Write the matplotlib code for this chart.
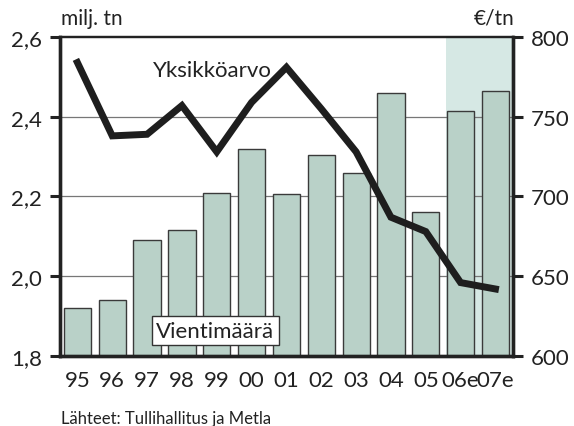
import numpy as np
import matplotlib
matplotlib.use("Agg")
import matplotlib.pyplot as plt

plt.rcParams['font.family'] = ['Lato', 'DejaVu Sans']

years = ["95", "96", "97", "98", "99", "00", "01", "02", "03", "04", "05", "06e", "07e"]
# export volume, million tonnes (left axis)
volume = [1.92, 1.94, 2.09, 2.115, 2.21, 2.32, 2.205, 2.305, 2.26, 2.46, 2.16, 2.415, 2.465]
# unit value, EUR/t (right axis)
unit_value = [784, 738, 739, 757, 728, 759, 781, 755, 728, 687, 678, 646, 642]

bar_color = "#b9d1c8"
shade_color = "#d6e8e4"
dark = "#222222"

fig = plt.figure(figsize=(5.74, 4.27), dpi=100)
ax = fig.add_axes([0.1045, 0.164, 0.789, 0.747])
x = np.arange(len(years))

# forecast shading
ax.axvspan(10.57, 12.5, color=shade_color, zorder=0, lw=0)
for y in [2.0, 2.2, 2.4]:
    ax.axhline(y, color="#777777", lw=0.9, zorder=1)

ax.bar(x, np.array(volume) - 1.8, bottom=1.8, width=0.78, color=bar_color,
       edgecolor="#3a3a3a", linewidth=1.0, zorder=2)
ax.set_xlim(-0.5, 12.5)
ax.set_ylim(1.8, 2.6)
ax.set_yticks([1.8, 2.0, 2.2, 2.4, 2.6])
ax.set_yticklabels(["1,8", "2,0", "2,2", "2,4", "2,6"])
ax.set_xticks(x)
ax.set_xticklabels(years)
ax.tick_params(axis="x", length=0, pad=10, labelsize=16, colors=dark)
ax.tick_params(axis="y", length=7, width=2.2, direction="out", labelsize=16,
               colors=dark, pad=6)

ax2 = ax.twinx()
ax2.plot(x, unit_value, color="#1e1e1e", lw=5, solid_joinstyle="miter", zorder=5)
ax2.set_ylim(600, 800)
ax2.set_yticks([600, 650, 700, 750, 800])
ax2.tick_params(axis="y", length=7, width=2.2, direction="out", labelsize=16,
                colors=dark, pad=6)

for a in (ax, ax2):
    a.spines["left"].set_linewidth(2.4)
    a.spines["right"].set_linewidth(2.4)
    a.spines["bottom"].set_linewidth(2.4)
    a.spines["top"].set_linewidth(1.6)
    for s in a.spines.values():
        s.set_color(dark)

ax2.text(2.17, 775.5, "Yksikköarvo", fontsize=16, color=dark, ha="left", va="baseline", zorder=6)
ax.text(3.96, 1.863, "Vientimäärä", fontsize=16, color=dark, ha="center", va="center", zorder=6,
        bbox=dict(boxstyle="square,pad=0.2", facecolor="white", edgecolor="#333333", lw=1.0))

fig.text(0.106, 0.941, "milj. tn", fontsize=15, color=dark, ha="left", va="baseline")
fig.text(0.897, 0.943, "€/tn", fontsize=15, color=dark, ha="right", va="baseline")
fig.text(0.106, 0.008, "Lähteet: Tullihallitus ja Metla", fontsize=12, color=dark, ha="left", va="baseline")

fig.savefig("out.png", dpi=100)
